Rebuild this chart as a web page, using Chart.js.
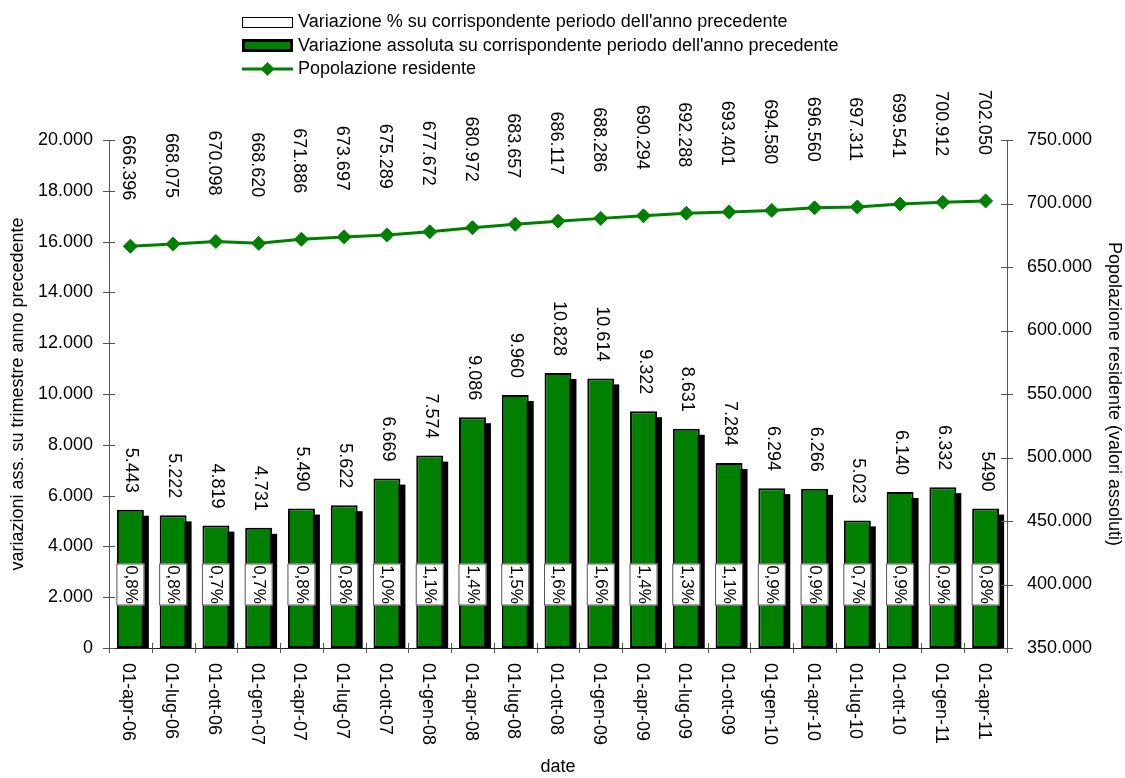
<!DOCTYPE html>
<html>
<head>
<meta charset="utf-8">
<script src="https://cdn.jsdelivr.net/npm/chart.js@4"></script>
<style>
  body { margin: 0; background: #fff; }
</style>
</head>
<body>
<canvas id="popChart" width="1125" height="778"></canvas>
<script>
const dates = ["01-apr-06", "01-lug-06", "01-ott-06", "01-gen-07", "01-apr-07", "01-lug-07", "01-ott-07",
    "01-gen-08", "01-apr-08", "01-lug-08", "01-ott-08", "01-gen-09", "01-apr-09", "01-lug-09",
    "01-ott-09", "01-gen-10", "01-apr-10", "01-lug-10", "01-ott-10", "01-gen-11", "01-apr-11"];
const absVar = [5443, 5222, 4819, 4731, 5490, 5622, 6669, 7574, 9086, 9960, 10828,
    10614, 9322, 8631, 7284, 6294, 6266, 5023, 6140, 6332, 5490];
const pctVar = [0.8, 0.8, 0.7, 0.7, 0.8, 0.8, 1.0, 1.1, 1.4, 1.5, 1.6,
    1.6, 1.4, 1.3, 1.1, 0.9, 0.9, 0.7, 0.9, 0.9, 0.8];
const population = [666396, 668075, 670098, 668620, 671886, 673697, 675289, 677672, 680972, 683657, 686117,
    688286, 690294, 692288, 693401, 694580, 696560, 697311, 699541, 700912, 702050];
const leftTicks = [0, 2000, 4000, 6000, 8000, 10000, 12000, 14000, 16000, 18000, 20000];
const rightTicks = [350000, 400000, 450000, 500000, 550000, 600000, 650000, 700000, 750000];

const FONT = "'Liberation Sans', Arial, sans-serif";
const GREEN = "#008000";

function fmt(v) {
    return String(v).replace(/\B(?=(\d{3})+(?!\d))/g, ".");
}
const barText = absVar.map(fmt);
barText[barText.length - 1] = "5490"; // nel grafico originale l'ultima etichetta non ha il punto

// ombra nera dietro le barre
const shadowPlugin = {
    id: "shadow",
    beforeDatasetDraw(chart, args) {
        if (chart.data.datasets[args.index].type !== "bar") return;
        const c = chart.ctx;
        c.save();
        c.fillStyle = "#000";
        args.meta.data.forEach(bar => {
            c.fillRect(bar.x - bar.width / 2 + 5, bar.y + 6, bar.width, bar.base - bar.y - 6);
        });
        c.restore();
    }
};

function vText(c, txt, x, y, align) {
    c.save();
    c.translate(x, y);
    c.rotate(Math.PI / 2);
    c.textAlign = align;
    c.textBaseline = "middle";
    c.fillText(txt, 0, 0);
    c.restore();
}

const labelsPlugin = {
    id: "labels",
    afterDatasetsDraw(chart) {
        const c = chart.ctx;
        const yl = chart.scales.y;
        const barMeta = chart.getDatasetMeta(1);
        const lineMeta = chart.getDatasetMeta(0);
        c.save();
        c.fillStyle = "#000";
        c.font = "18px " + FONT;
        barMeta.data.forEach((bar, i) => {
            vText(c, barText[i], bar.x + 1, bar.y - 17, "right");
        });
        lineMeta.data.forEach((pt, i) => {
            vText(c, fmt(population[i]), pt.x - 2, pt.y - 46, "right");
        });
        // riquadri percentuali
        const yBox = yl.getPixelForValue(2500);
        barMeta.data.forEach((bar, i) => {
            c.fillStyle = "#fff";
            c.strokeStyle = "#555";
            c.lineWidth = 1;
            c.fillRect(bar.x - 14, yBox - 21, 28, 42);
            c.strokeRect(bar.x - 13.5, yBox - 20.5, 27, 41);
            c.fillStyle = "#000";
            c.font = "17px " + FONT;
            vText(c, pctVar[i].toFixed(1).replace(".", ",") + "%", bar.x, yBox, "center");
        });
        c.restore();
    },
    afterDraw(chart) {
        const c = chart.ctx;
        const a = chart.chartArea;
        const x = chart.scales.x;
        c.save();
        // tacche incrociate sugli assi
        c.strokeStyle = "#555";
        c.lineWidth = 1;
        c.beginPath();
        chart.scales.y.ticks.forEach(t => {
            const py = Math.round(chart.scales.y.getPixelForValue(t.value)) + 0.5;
            c.moveTo(a.left - 6, py); c.lineTo(a.left + 6, py);
        });
        chart.scales.y1.ticks.forEach(t => {
            const py = Math.round(chart.scales.y1.getPixelForValue(t.value)) + 0.5;
            c.moveTo(a.right - 6, py); c.lineTo(a.right + 6, py);
        });
        const step = (a.right - a.left) / dates.length;
        for (let k = 0; k <= dates.length; k++) {
            const px = Math.round(a.left + k * step) + 0.5;
            c.moveTo(px, a.bottom - 5); c.lineTo(px, a.bottom + 5);
        }
        c.stroke();

        // etichette asse x (ruotate)
        c.fillStyle = "#000";
        c.font = "18px " + FONT;
        dates.forEach((d, i) => {
            vText(c, d, x.getPixelForValue(i) - 2, a.bottom + 15, "left");
        });

        // titoli assi
        c.textAlign = "center";
        c.textBaseline = "middle";
        c.fillText("date", (a.left + a.right) / 2, 767);
        c.save();
        c.translate(18, (a.top + a.bottom) / 2);
        c.rotate(-Math.PI / 2);
        c.fillText("variazioni ass. su trimestre anno precedente", 0, 0);
        c.restore();
        c.save();
        c.translate(1114, (a.top + a.bottom) / 2);
        c.rotate(Math.PI / 2);
        c.fillText("Popolazione residente (valori assoluti)", 0, 0);
        c.restore();

        // legenda
        c.textAlign = "left";
        c.fillStyle = "#fff";
        c.fillRect(242, 17, 51, 11);
        c.strokeStyle = "#000";
        c.lineWidth = 1;
        c.strokeRect(242.5, 17.5, 50, 10);
        c.fillStyle = GREEN;
        c.fillRect(242, 39, 51, 13);
        c.lineWidth = 3;
        c.strokeRect(243.5, 40.5, 48, 10);
        c.strokeStyle = GREEN;
        c.lineWidth = 3;
        c.beginPath();
        c.moveTo(242, 69); c.lineTo(293, 69);
        c.stroke();
        c.fillStyle = GREEN;
        c.beginPath();
        c.moveTo(267.5, 62); c.lineTo(274.5, 69); c.lineTo(267.5, 76); c.lineTo(260.5, 69);
        c.closePath();
        c.fill();
        c.fillStyle = "#000";
        c.fillText("Variazione % su corrispondente periodo dell'anno precedente", 298, 22);
        c.fillText("Variazione assoluta su corrispondente periodo dell'anno precedente", 298, 46);
        c.fillText("Popolazione residente", 298, 69);
        c.restore();
    }
};

new Chart(document.getElementById("popChart"), {
    data: {
        labels: dates,
        datasets: [{
            type: "line",
            label: "Popolazione residente",
            data: population,
            yAxisID: "y1",
            order: 0,
            borderColor: GREEN,
            borderWidth: 3,
            pointStyle: "rectRot",
            pointRadius: 7,
            pointBackgroundColor: GREEN,
            pointBorderColor: GREEN,
            pointBorderWidth: 1,
            tension: 0,
        }, {
            type: "bar",
            label: "Variazione assoluta su corrispondente periodo dell'anno precedente",
            data: absVar,
            yAxisID: "y",
            order: 1,
            backgroundColor: GREEN,
            borderColor: "#000",
            borderWidth: 2,
            borderSkipped: false,
            categoryPercentage: 1,
            barPercentage: 0.63,
        }]
    },
    options: {
        responsive: false,
        animation: false,
        devicePixelRatio: 1,
        layout: { padding: { top: 140, left: 0, right: 0, bottom: 0 } },
        plugins: {
            legend: { display: false },
            tooltip: { enabled: false },
        },
        scales: {
            x: {
                offset: true,
                grid: { display: false, drawTicks: false },
                border: { color: "#222", width: 1 },
                ticks: { display: false },
                afterFit(s) { s.height = 130; },
            },
            y: {
                position: "left",
                min: 0,
                max: 20000,
                afterBuildTicks(s) { s.ticks = leftTicks.map(v => ({ value: v })); },
                grid: { display: false, drawTicks: false },
                border: { color: "#555", width: 1 },
                ticks: { padding: 16, color: "#000", font: { family: FONT, size: 18 }, callback: v => fmt(v) },
                afterFit(s) { s.width = 109; },
            },
            y1: {
                position: "right",
                min: 350000,
                max: 750000,
                afterBuildTicks(s) { s.ticks = rightTicks.map(v => ({ value: v })); },
                grid: { display: false, drawTicks: false },
                border: { color: "#555", width: 1 },
                ticks: { padding: 20, color: "#000", font: { family: FONT, size: 18 }, callback: v => fmt(v) },
                afterFit(s) { s.width = 118; },
            }
        }
    },
    plugins: [shadowPlugin, labelsPlugin]
});
</script>
</body>
</html>
